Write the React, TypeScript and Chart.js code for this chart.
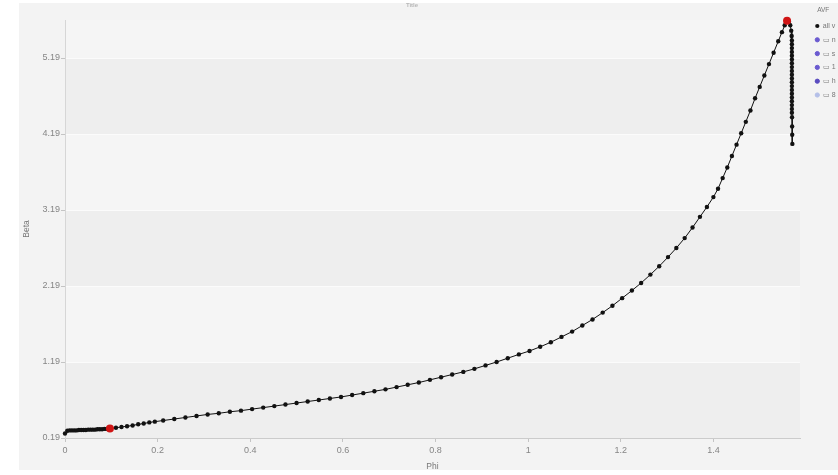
import React, { useEffect, useRef } from "react";
import { Chart, registerables } from "chart.js";

Chart.register(...registerables);

const chartTitle = "Title";
const xAxisTitle = "Phi";
const yAxisTitle = "Beta";
const legendTitle = "AVF";
const seriesNames = ["all v", "▭ n", "▭ s", "▭ 1", "▭ h", "▭ 8"];

const xTickValues = [0, 0.2, 0.4, 0.6, 0.8, 1, 1.2, 1.4];
const xTickLabels = ["0", "0.2", "0.4", "0.6", "0.8", "1", "1.2", "1.4"];
const yTickValues = [0.19, 1.19, 2.19, 3.19, 4.19, 5.19];
const yTickLabels = ["0.19", "1.19", "2.19", "3.19", "4.19", "5.19"];
const xMin = 0;
const xMax = 1.587;
const yMin = 0.19;
const yMax = 5.69;

const phiValues = [
  0, 0.005, 0.01, 0.015, 0.02, 0.025, 0.03, 0.035, 0.04, 0.045, 0.05, 0.055, 0.06, 0.065, 0.07, 0.075, 0.08, 0.085, 0.09,
  0.097,
  0.11, 0.122, 0.134, 0.146, 0.158, 0.17, 0.182, 0.194,
  0.212, 0.236, 0.26, 0.284, 0.308, 0.332, 0.356, 0.38, 0.404, 0.428, 0.452, 0.476, 0.5, 0.524, 0.548, 0.572, 0.596,
  0.62, 0.644, 0.668, 0.692, 0.716, 0.74, 0.764, 0.788, 0.812, 0.836, 0.86, 0.884, 0.908, 0.932, 0.956, 0.98,
  1.003, 1.026, 1.049, 1.072, 1.095, 1.117, 1.139, 1.161, 1.182, 1.203, 1.224, 1.244, 1.264, 1.283, 1.302, 1.32, 1.338, 1.355, 1.371, 1.386, 1.4,
  1.41, 1.42, 1.43, 1.44, 1.45, 1.46, 1.47, 1.48, 1.49, 1.5, 1.51, 1.52, 1.53, 1.54, 1.548, 1.554, 1.559,
  1.563, 1.566, 1.568, 1.569,
  1.5695, 1.5695, 1.5695, 1.5695, 1.5695, 1.5695, 1.5695, 1.5695, 1.5695, 1.5695,
  1.5695, 1.5695, 1.5695, 1.5695, 1.5695, 1.5695, 1.5695, 1.5695, 1.5695, 1.5695,
  1.5698, 1.57, 1.5702, 1.5705,
];

const betaValues = [
  0.25, 0.285, 0.29, 0.29, 0.29, 0.29, 0.295, 0.295, 0.295, 0.295, 0.3, 0.3, 0.3, 0.3, 0.305, 0.305, 0.305, 0.31, 0.31,
  0.315,
  0.325, 0.335, 0.345, 0.355, 0.37, 0.38, 0.395, 0.405,
  0.42, 0.44, 0.46, 0.48, 0.5, 0.515, 0.535, 0.55, 0.57, 0.59, 0.61, 0.63, 0.65, 0.67, 0.69, 0.71, 0.73,
  0.755, 0.78, 0.805, 0.83, 0.86, 0.89, 0.92, 0.955, 0.99, 1.025, 1.06, 1.1, 1.145, 1.19, 1.24, 1.29,
  1.335, 1.39, 1.45, 1.52, 1.59, 1.67, 1.75, 1.84, 1.93, 2.03, 2.13, 2.23, 2.34, 2.45, 2.57, 2.69, 2.82, 2.96, 3.1, 3.23, 3.36,
  3.47, 3.61, 3.75, 3.9, 4.05, 4.2, 4.35, 4.5, 4.66, 4.81, 4.96, 5.11, 5.26, 5.41, 5.53, 5.62, 5.68,
  5.67, 5.62, 5.55, 5.48,
  5.42, 5.37, 5.32, 5.27, 5.22, 5.17, 5.12, 5.07, 5.02, 4.97,
  4.92, 4.87, 4.82, 4.77, 4.72, 4.67, 4.62, 4.57, 4.52, 4.47,
  4.41, 4.29, 4.18, 4.06,
];

const highlightPhi = [0.097, 1.559];
const highlightBeta = [0.315, 5.68];

const seriesColors = ["#111111", "#6a5ad0", "#6a5ad0", "#6a5ad0", "#5a4cc0", "#b4bfe8"];

const bgPlugin = {
  id: "bgBands",
  beforeDraw(chart: any) {
    const { ctx, chartArea, scales } = chart;
    ctx.save();
    ctx.fillStyle = "#f3f3f3";
    ctx.fillRect(19, 3, chart.width - 19, 467);
    const ys = scales.y;
    const edges = [...yTickValues, ys.max];
    for (let i = 0; i < edges.length - 1; i++) {
      const top = ys.getPixelForValue(edges[i + 1]);
      const bot = ys.getPixelForValue(edges[i]);
      ctx.fillStyle = (edges.length - 2 - i) % 2 === 1 ? "#eeeeee" : "#f5f5f5";
      ctx.fillRect(chartArea.left, top, chartArea.right - chartArea.left, bot - top);
    }
    ctx.restore();
  },
};

export default function App() {
  const ref = useRef<HTMLCanvasElement>(null);

  useEffect(() => {
    if (!ref.current) return;
    Chart.defaults.font.family = "'Liberation Sans', Arial, sans-serif";

    const mainData = phiValues.map((p, i) => ({ x: p, y: betaValues[i] }));
    const highlightData = highlightPhi.map((p, i) => ({ x: p, y: highlightBeta[i] }));

    const datasets: any[] = [
      {
        label: seriesNames[0],
        data: mainData,
        borderColor: seriesColors[0],
        backgroundColor: seriesColors[0],
        borderWidth: 1,
        pointRadius: 2.2,
        pointBorderWidth: 0,
        pointBackgroundColor: seriesColors[0],
        pointBorderColor: seriesColors[0],
        tension: 0,
        clip: false,
      },
    ];
    for (let k = 1; k < seriesNames.length; k++) {
      datasets.push({
        label: seriesNames[k],
        data: [],
        borderColor: seriesColors[k],
        backgroundColor: seriesColors[k],
        pointBackgroundColor: seriesColors[k],
        pointBorderColor: seriesColors[k],
        pointRadius: 2,
      });
    }
    datasets.push({
      label: "highlight",
      data: highlightData,
      showLine: false,
      order: -1,
      pointRadius: 4,
      pointBorderWidth: 0,
      pointBackgroundColor: "#d01515",
      pointBorderColor: "#d01515",
      backgroundColor: "#d01515",
      clip: false,
    });
    const highlightIndex = datasets.length - 1;

    const chart = new Chart(ref.current, {
      type: "line",
      data: { datasets },
      plugins: [bgPlugin],
      options: {
        responsive: false,
        animation: false,
        events: [],
        layout: { padding: { left: -14, right: 0, top: 0, bottom: 0 } },
        plugins: {
          tooltip: { enabled: false },
          title: {
            display: true,
            text: chartTitle,
            color: "#b8b8b8",
            font: { size: 6 },
            padding: { top: 1.4, bottom: 11.4 },
          },
          legend: {
            display: true,
            position: "right",
            align: "start",
            maxWidth: 29.5,
            title: {
              display: true,
              text: legendTitle,
              color: "#777",
              position: "center",
              font: { size: 6.5 },
              padding: { top: 6.5, bottom: 1.4 },
            },
            labels: {
              usePointStyle: true,
              pointStyle: "circle",
              boxWidth: 4,
              boxHeight: 3,
              padding: 6.8,
              color: "#777",
              font: { size: 7 },
              filter: (item: any) => item.datasetIndex !== highlightIndex,
            },
          },
        },
        scales: {
          x: {
            type: "linear",
            position: "bottom",
            min: xMin,
            max: xMax,
            afterBuildTicks: (scale: any) => {
              scale.ticks = xTickValues.map((v) => ({ value: v }));
            },
            afterFit: (scale: any) => {
              scale.height = 37;
            },
            ticks: {
              color: "#858585",
              font: { size: 9 },
              padding: 3.5,
              maxRotation: 0,
              autoSkip: false,
              callback: (_v: any, i: number) => xTickLabels[i],
            },
            grid: {
              drawOnChartArea: false,
              drawTicks: true,
              tickLength: 4,
              tickColor: "#c4c4c4",
              color: "#c4c4c4",
            },
            border: { display: true, color: "#cbcbcb", width: 1 },
            title: {
              display: true,
              text: xAxisTitle,
              color: "#777",
              font: { size: 8.5 },
              padding: { top: 0, bottom: 3 },
            },
          },
          y: {
            type: "linear",
            position: "left",
            min: yMin,
            max: yMax,
            afterBuildTicks: (scale: any) => {
              scale.ticks = yTickValues.map((v) => ({ value: v }));
            },
            afterFit: (scale: any) => {
              scale.width = 79;
            },
            ticks: {
              color: "#858585",
              font: { size: 9 },
              padding: 1,
              autoSkip: false,
              callback: (_v: any, i: number) => yTickLabels[i],
            },
            grid: {
              drawOnChartArea: true,
              color: "#fbfbfb",
              lineWidth: 1,
              drawTicks: true,
              tickLength: 4,
              tickColor: "#c4c4c4",
            },
            border: { display: true, color: "#d6d6d6", width: 1 },
            title: {
              display: true,
              text: yAxisTitle,
              color: "#777",
              font: { size: 8.5 },
              padding: { top: 35.9, bottom: 0 },
            },
          },
          yRightSpacer: {
            type: "linear",
            position: "right",
            display: true,
            grid: { display: false, drawTicks: false },
            ticks: { display: false },
            border: { display: false },
            afterFit: (scale: any) => {
              scale.width = 8.5;
            },
          },
        },
      } as any,
    });

    return () => chart.destroy();
  }, []);

  return (
    <div
      style={{
        position: "fixed",
        left: 0,
        top: 0,
        width: 838,
        height: 475,
        overflow: "hidden",
        background: "#ffffff",
      }}
    >
      <canvas ref={ref} width={838} height={475} style={{ display: "block", width: 838, height: 475 }} />
    </div>
  );
}
